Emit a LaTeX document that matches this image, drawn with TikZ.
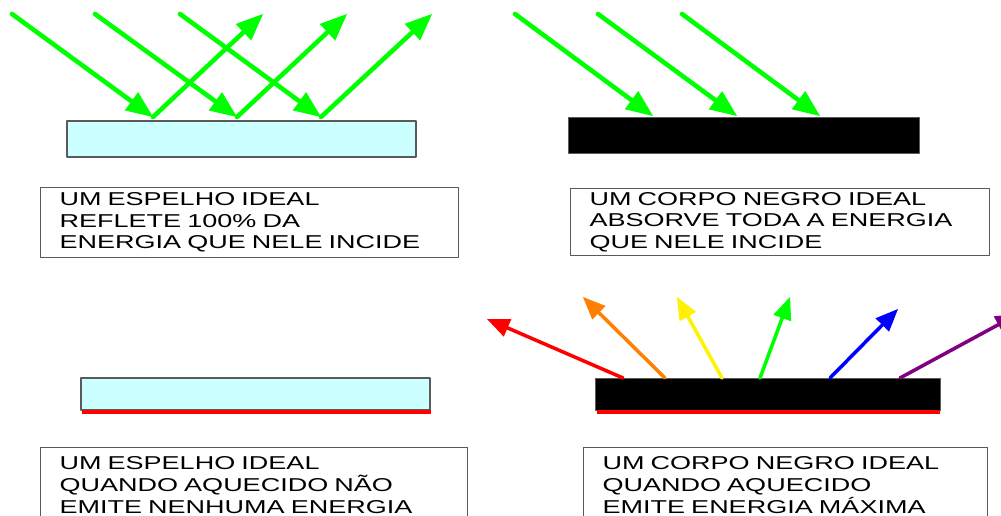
\documentclass[tikz,border=0pt]{standalone}
\usepackage{fontspec}
\usepackage{tikz}
\usetikzlibrary{arrows}
\newfontfamily\largo[FakeStretch=1.45]{Liberation Sans}
\definecolor{espelho}{RGB}{204,255,255}
\definecolor{roxo}{RGB}{128,0,128}
\definecolor{borda}{RGB}{90,90,90}

\begin{document}
\begin{tikzpicture}[line cap=round,line join=round,>=triangle 45,x=0.02cm,y=-0.02cm,
  raio/.style={->,line width=2.6pt,color=green},
  emissao/.style={->,line width=2pt},
  caixa/.style={draw=borda,line width=0.6pt,anchor=north west,align=left,inner xsep=0.38cm,inner ysep=2pt,
    font=\largo\fontsize{10.6pt}{12.3pt}\selectfont}]
\clip(0,0) rectangle (1001,516);
% espelho e corpo negro (em cima)
\draw [fill=espelho,draw=borda,line width=0.8pt] (67,121) rectangle (416,157);
\draw [fill=black,draw=borda,line width=0.5pt] (568,117) rectangle (919,153);
% espelho e corpo negro (embaixo)
\draw [fill=espelho,draw=borda,line width=0.8pt] (81,378) rectangle (430,410);
\draw [red,line width=2.3pt,line cap=butt] (82,412) -- (431,412);
\draw [fill=black,draw=borda,line width=0.5pt] (595,378) rectangle (940,410);
\draw [red,line width=2.3pt,line cap=butt] (597,412) -- (940,412);
% pontos dos raios
\coordinate (a1) at (12,14);
\coordinate (a2) at (95,14);
\coordinate (a3) at (180,14);
\coordinate (h1) at (153,117);
\coordinate (h2) at (237,117);
\coordinate (h3) at (321,117);
\coordinate (r1) at (263,14);
\coordinate (r2) at (347,14);
\coordinate (r3) at (432,14);
\coordinate (b1) at (515,14);
\coordinate (b2) at (598,14);
\coordinate (b3) at (682,14);
\coordinate (k1) at (653,116);
\coordinate (k2) at (737,116);
\coordinate (k3) at (820,116);
\draw [raio] (a1) -- (h1);
\draw [raio] (a2) -- (h2);
\draw [raio] (a3) -- (h3);
\draw [raio] (h1) -- (r1);
\draw [raio] (h2) -- (r2);
\draw [raio] (h3) -- (r3);
\draw [raio] (b1) -- (k1);
\draw [raio] (b2) -- (k2);
\draw [raio] (b3) -- (k3);
% emissao do corpo negro
\coordinate (e1) at (623,378);
\coordinate (e2) at (665,378);
\coordinate (e3) at (722,378);
\coordinate (e4) at (760,378);
\coordinate (e5) at (830,378);
\coordinate (e6) at (900,378);
\coordinate (s1) at (487,319);
\coordinate (s2) at (583,297);
\coordinate (s3) at (677,297);
\coordinate (s4) at (790,297);
\coordinate (s5) at (898,309);
\coordinate (s6) at (1018,314);
\draw [emissao,color=red] (e1) -- (s1);
\draw [emissao,color=orange] (e2) -- (s2);
\draw [emissao,color=yellow] (e3) -- (s3);
\draw [emissao,color=green] (e4) -- (s4);
\draw [emissao,color=blue] (e5) -- (s5);
\draw [emissao,color=roxo] (e6) -- (s6);
% textos
\node [caixa,text width=7.6cm,minimum height=1.4cm] (t1) at (40,187) {UM ESPELHO IDEAL\\REFLETE 100\% DA\\ENERGIA QUE NELE INCIDE};
\node [caixa,text width=7.62cm,minimum height=1.34cm] (t2) at (570,188) {UM CORPO NEGRO IDEAL\\ABSORVE TODA A ENERGIA\\QUE NELE INCIDE};
\node [caixa,text width=7.78cm,minimum height=1.5cm] (t3) at (40,447) {UM ESPELHO IDEAL\\QUANDO AQUECIDO NÃO\\EMITE NENHUMA ENERGIA};
\node [caixa,text width=7.32cm,minimum height=1.5cm] (t4) at (583,447) {UM CORPO NEGRO IDEAL\\QUANDO AQUECIDO\\EMITE ENERGIA MÁXIMA};
\end{tikzpicture}
\end{document}
